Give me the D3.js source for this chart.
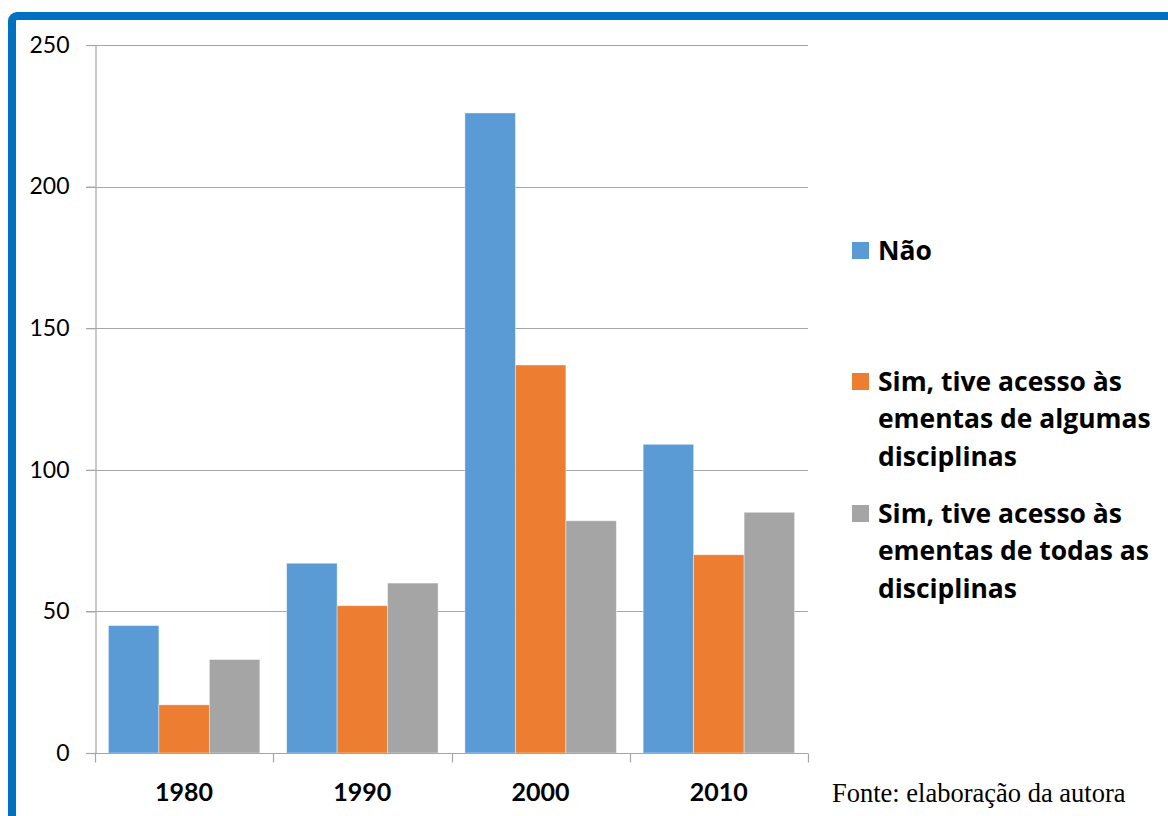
<!DOCTYPE html>
<html>
<head>
<meta charset="utf-8">
<script src="https://cdn.jsdelivr.net/npm/d3@7"></script>
<style>
  html, body { margin: 0; padding: 0; background: #fff; }
  svg { display: block; }
</style>
</head>
<body>
<svg id="chart" width="1168" height="816"></svg>
<script>
const categories = ["1980", "1990", "2000", "2010"];
const seriesNames = [
  "Não",
  "Sim, tive acesso às ementas de algumas disciplinas",
  "Sim, tive acesso às ementas de todas as disciplinas"
];
const legendLines = [
  ["Não"],
  ["Sim, tive acesso às", "ementas de algumas", "disciplinas"],
  ["Sim, tive acesso às", "ementas de todas as", "disciplinas"]
];
const naoValues = [45, 67, 226, 109];
const algumasValues = [17, 52, 137, 70];
const todasValues = [33, 60, 82, 85];
const yTicks = [0, 50, 100, 150, 200, 250];
const colors = ["#5b9bd5", "#ed7d31", "#a5a5a5"];
const sourceNote = "Fonte: elaboração da autora";

const seriesValues = [naoValues, algumasValues, todasValues];

const svg = d3.select("#chart");
const sans = "Lato, 'Open Sans', sans-serif";
const legendFont = "'Open Sans', Lato, sans-serif";

// blue frame
svg.append("rect")
  .attr("x", 12).attr("y", 16)
  .attr("width", 1300).attr("height", 1000)
  .attr("rx", 5)
  .attr("fill", "none")
  .attr("stroke", "#0070c0")
  .attr("stroke-width", 8);

const plotLeft = 95, plotRight = 808, plotTop = 45, plotBottom = 753;

const y = d3.scaleLinear().domain([0, 250]).range([plotBottom, plotTop]);
const x0 = d3.scaleBand().domain(categories).range([plotLeft, plotRight]).padding(0);
const x1 = d3.scaleBand().domain(d3.range(seriesNames.length))
  .range([13.4, x0.bandwidth() - 13.4]).padding(0);

// gridlines
svg.append("g")
  .selectAll("line")
  .data(yTicks.filter(t => t > 0))
  .join("line")
  .attr("x1", plotLeft - 9).attr("x2", plotRight)
  .attr("y1", d => Math.round(y(d)) + 0.5).attr("y2", d => Math.round(y(d)) + 0.5)
  .attr("stroke", "#a6a6a6").attr("stroke-width", 1.2);

// y axis
const yAxis = svg.append("g")
  .attr("transform", `translate(${plotLeft + 0.5},0)`)
  .call(d3.axisLeft(y).tickValues(yTicks).tickSize(9).tickPadding(17).tickFormat(d3.format("d")));
yAxis.select(".domain").attr("stroke", "#a6a6a6").attr("stroke-width", 1.2);
yAxis.selectAll(".tick line").attr("stroke", "#a6a6a6").attr("stroke-width", 1.2);
yAxis.selectAll(".tick text")
  .attr("font-family", sans).attr("font-size", 23).attr("fill", "#000");

// bars
const groups = svg.append("g")
  .selectAll("g")
  .data(categories)
  .join("g")
  .attr("transform", d => `translate(${x0(d)},0)`);

groups.selectAll("rect")
  .data((c, ci) => seriesValues.map((vals, si) => ({ si, v: vals[ci] })))
  .join("rect")
  .attr("x", d => x1(d.si))
  .attr("width", x1.bandwidth())
  .attr("y", d => y(d.v))
  .attr("height", d => y(0) - y(d.v))
  .attr("fill", d => colors[d.si])
  .attr("stroke", "#ffffff")
  .attr("stroke-opacity", 0.5)
  .attr("stroke-width", 0.8);

// x axis
const xAxisG = svg.append("g")
  .attr("transform", `translate(0,${plotBottom + 0.5})`);
xAxisG.append("line")
  .attr("x1", plotLeft - 9).attr("x2", plotRight)
  .attr("stroke", "#a6a6a6").attr("stroke-width", 1.2);
const boundaries = categories.map(c => x0(c)).concat([plotRight]);
xAxisG.selectAll("line.tk")
  .data(boundaries)
  .join("line")
  .attr("class", "tk")
  .attr("x1", d => Math.round(d) + 0.5).attr("x2", d => Math.round(d) + 0.5)
  .attr("y1", 0).attr("y2", 9)
  .attr("stroke", "#a6a6a6").attr("stroke-width", 1.2);
xAxisG.selectAll("text")
  .data(categories)
  .join("text")
  .attr("x", d => x0(d) + x0.bandwidth() / 2)
  .attr("y", 47)
  .attr("text-anchor", "middle")
  .attr("font-family", sans).attr("font-weight", "bold").attr("font-size", 25)
  .attr("fill", "#000")
  .text(d => d);

// legend
const legendTop = [242, 373, 505];
const lg = svg.append("g");
const legendTexts = [];
legendLines.forEach((lines, i) => {
  lg.append("rect")
    .attr("x", 852).attr("y", legendTop[i])
    .attr("width", 17).attr("height", 17)
    .attr("fill", colors[i]);
  lines.forEach((ln, j) => {
    const t = lg.append("text")
      .attr("x", 878)
      .attr("y", legendTop[i] + 17.5 + j * 37.5)
      .attr("font-family", legendFont).attr("font-weight", "bold").attr("font-size", 25)
      .attr("fill", "#000")
      .text(ln);
    legendTexts.push(t);
  });
});
// fit legend font so the first long line spans the same width as the reference
const refLine = legendTexts[1].node().getComputedTextLength();
const legendSize = Math.max(18, Math.min(32, 25 * 244 / refLine));
legendTexts.forEach(t => t.attr("font-size", legendSize));

// source note
svg.append("text")
  .attr("x", 832).attr("y", 802)
  .attr("font-family", "'Liberation Serif', 'Times New Roman', serif")
  .attr("font-size", 26.5)
  .attr("fill", "#000")
  .text(sourceNote);
</script>
</body>
</html>
